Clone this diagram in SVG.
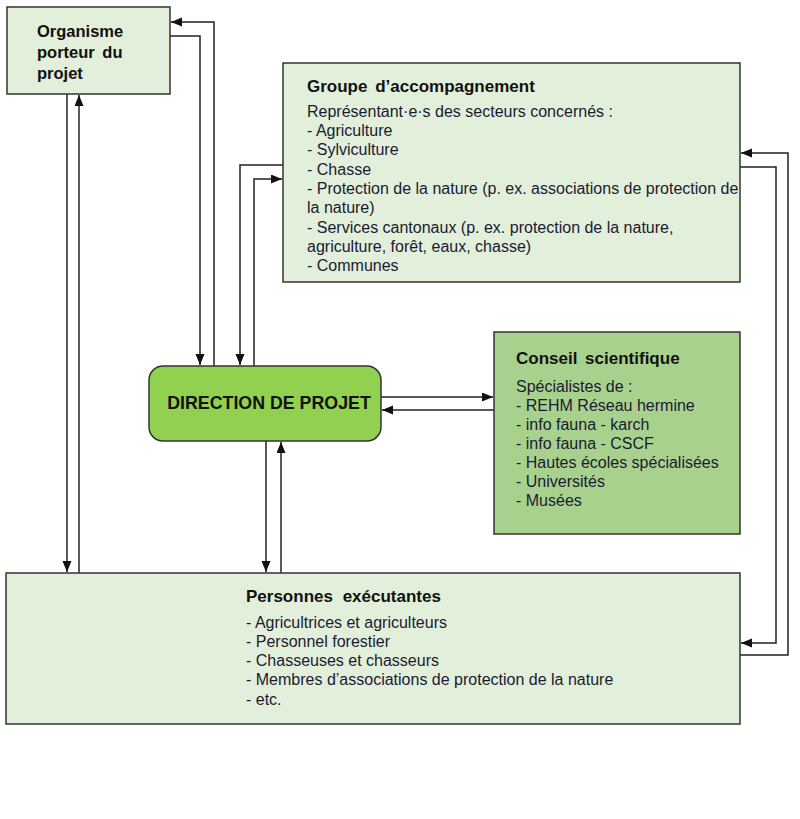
<svg xmlns="http://www.w3.org/2000/svg" width="800" height="819" viewBox="0 0 800 819">
<style>
.box{fill:#E2EFDA;stroke:#333;stroke-width:1.5}
.sci{fill:#A9D18E;stroke:#333;stroke-width:1.5}
.dir{fill:#92D050;stroke:#333;stroke-width:1.5}
.t{font-family:"Liberation Sans",Arial,sans-serif;font-weight:bold;font-size:17px;fill:#111;word-spacing:3px}
.b{font-family:"Liberation Sans",Arial,sans-serif;font-size:16px;fill:#1a1a33}
.c{fill:none;stroke:#222;stroke-width:1.5}
</style>
<defs>
<marker id="ah" markerUnits="userSpaceOnUse" markerWidth="12" markerHeight="10" refX="11" refY="4.5" orient="auto">
<path d="M0,0 L11,4.5 L0,9 z" fill="#111"/>
</marker>
</defs>
<rect width="800" height="819" fill="#fff"/>
<g id="connectors">
<path class="c" d="M170,36 H200 V365" marker-end="url(#ah)"/>
<path class="c" d="M214,366 V22 H171" marker-end="url(#ah)"/>
<path class="c" d="M283,165 H240 V365" marker-end="url(#ah)"/>
<path class="c" d="M254,366 V179 H282" marker-end="url(#ah)"/>
<path class="c" d="M381,397 H493" marker-end="url(#ah)"/>
<path class="c" d="M494,410 H382" marker-end="url(#ah)"/>
<path class="c" d="M266,441 V572" marker-end="url(#ah)"/>
<path class="c" d="M281,573 V442" marker-end="url(#ah)"/>
<path class="c" d="M67,94 V572" marker-end="url(#ah)"/>
<path class="c" d="M79,573 V95" marker-end="url(#ah)"/>
<path class="c" d="M740,167 H776 V643 H741" marker-end="url(#ah)"/>
<path class="c" d="M740,655 H788 V153 H741" marker-end="url(#ah)"/>
</g>
<g id="organisme">
<rect class="box" x="7" y="7" width="163" height="87"/>
<text class="t" style="font-size:16.5px" x="37" y="37">Organisme</text>
<text class="t" style="font-size:16.5px" x="37" y="58">porteur du</text>
<text class="t" style="font-size:16.5px" x="37" y="79">projet</text>
</g>
<g id="groupe">
<rect class="box" x="283" y="63" width="457" height="219"/>
<text class="t" x="307" y="92">Groupe d’accompagnement</text>
<text class="b" x="307" y="117">Représentant·e·s des secteurs concernés :</text>
<text class="b" x="307" y="136">- Agriculture</text>
<text class="b" x="307" y="155">- Sylviculture</text>
<text class="b" x="307" y="175">- Chasse</text>
<text class="b" x="307" y="194">- Protection de la nature (p. ex. associations de protection de</text>
<text class="b" x="307" y="213">la nature)</text>
<text class="b" x="307" y="233">- Services cantonaux (p. ex. protection de la nature,</text>
<text class="b" x="307" y="252">agriculture, forêt, eaux, chasse)</text>
<text class="b" x="307" y="271">- Communes</text>
</g>
<g id="direction">
<rect class="dir" x="149" y="366" width="232" height="75" rx="14"/>
<text class="t" style="font-size:17.8px;word-spacing:0" x="269" y="409" text-anchor="middle">DIRECTION DE PROJET</text>
</g>
<g id="conseil">
<rect class="sci" x="494" y="332" width="246" height="202"/>
<text class="t" x="516" y="364">Conseil scientifique</text>
<text class="b" x="516" y="392">Spécialistes de :</text>
<text class="b" x="516" y="411">- REHM Réseau hermine</text>
<text class="b" x="516" y="430">- info fauna - karch</text>
<text class="b" x="516" y="449">- info fauna - CSCF</text>
<text class="b" x="516" y="468">- Hautes écoles spécialisées</text>
<text class="b" x="516" y="487">- Universités</text>
<text class="b" x="516" y="506">- Musées</text>
</g>
<g id="personnes">
<rect class="box" x="6" y="573" width="734" height="151"/>
<text class="t" style="word-spacing:5px" x="246" y="602">Personnes exécutantes</text>
<text class="b" x="246" y="628">- Agricultrices et agriculteurs</text>
<text class="b" x="246" y="647">- Personnel forestier</text>
<text class="b" x="246" y="666">- Chasseuses et chasseurs</text>
<text class="b" x="246" y="685">- Membres d’associations de protection de la nature</text>
<text class="b" x="246" y="705">- etc.</text>
</g>
</svg>
